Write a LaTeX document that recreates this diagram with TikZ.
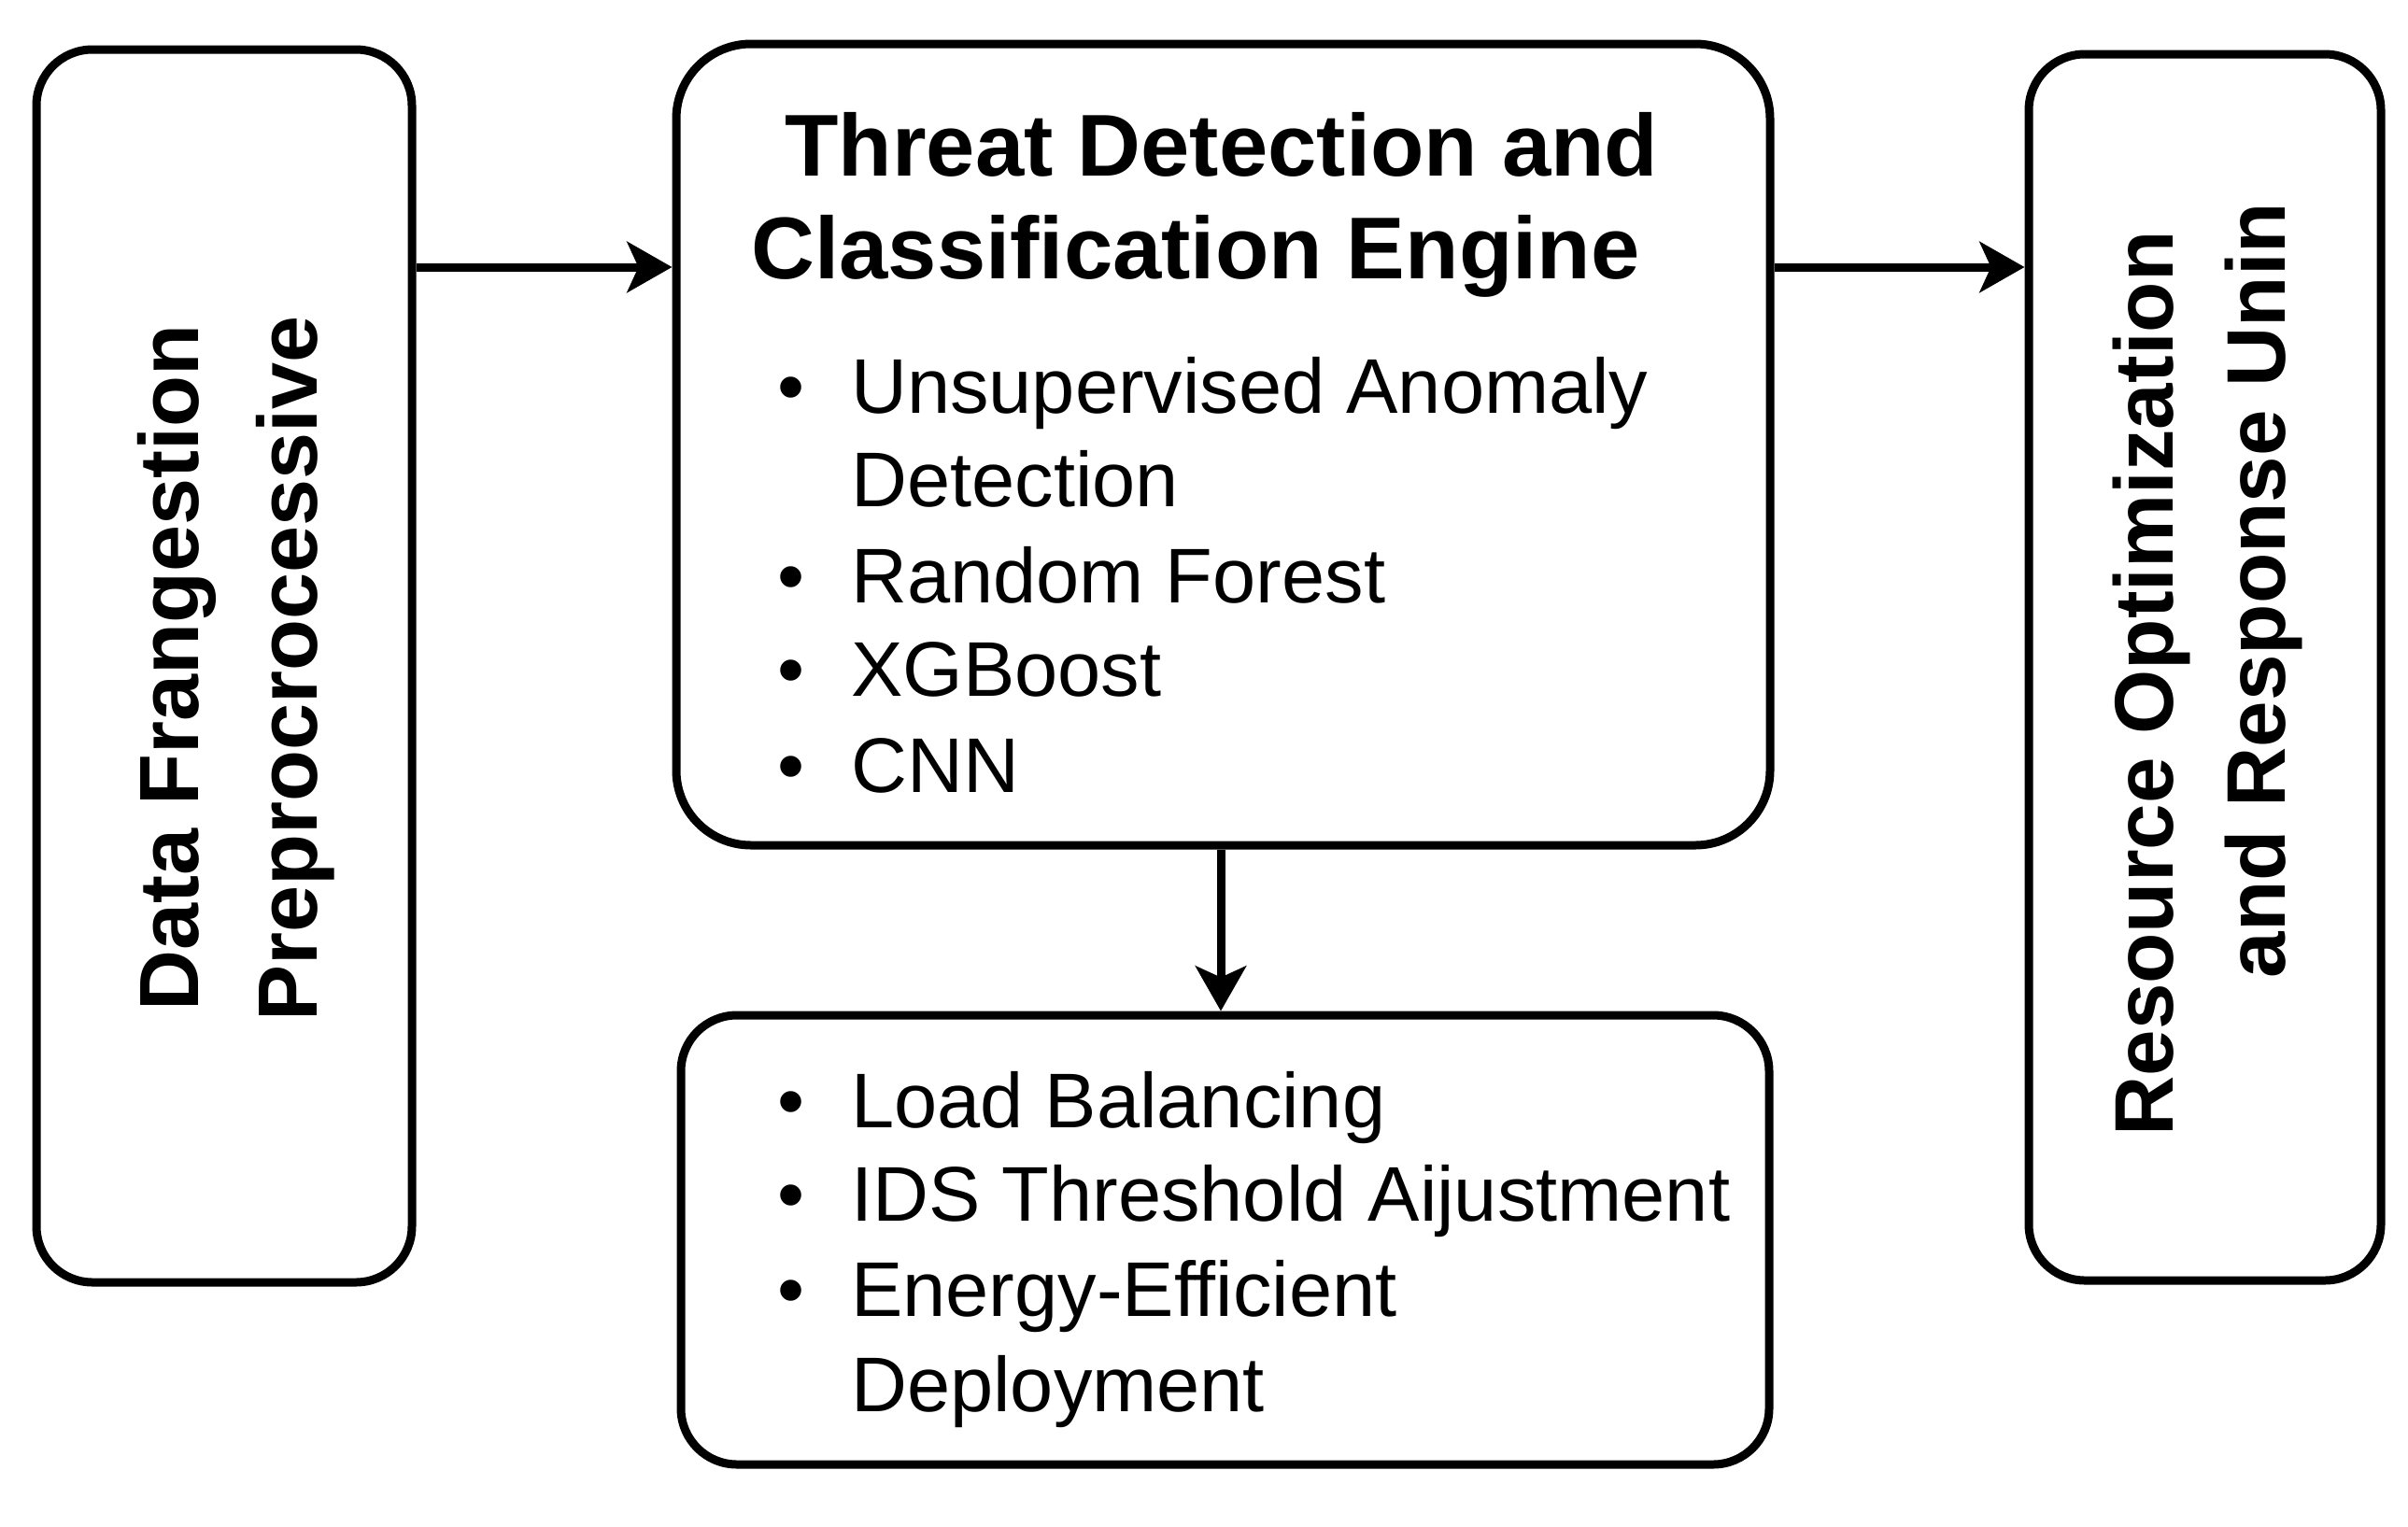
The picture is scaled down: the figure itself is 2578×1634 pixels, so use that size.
\documentclass[tikz,border=0pt]{standalone}
\usepackage{fontspec}
\setmainfont{Liberation Sans}
\usetikzlibrary{arrows.meta}
\tikzset{
  box/.style={draw=black, line width=9pt, rounded corners=60pt, rectangle, inner sep=0pt, fill=white},
  bigbox/.style={box, rounded corners=80pt},
  arr/.style={draw=black, line width=9pt, -{Stealth[length=48pt, width=54pt, inset=12pt]}},
  vlbl/.style={inner sep=0pt, rotate=90, anchor=base, font=\bfseries\fontsize{89}{107}\selectfont},
  ttl/.style={inner sep=0pt, anchor=base, font=\bfseries\fontsize{94}{107}\selectfont},
  itm/.style={inner sep=0pt, anchor=base west, font=\fontsize{83}{100}\selectfont},
  bul/.style={inner sep=0pt, anchor=base, font=\fontsize{83}{100}\selectfont}
}
\begin{document}
\begin{tikzpicture}[x=1pt,y=-1pt]
\useasboundingbox[fill=white] (0,0) rectangle (2578,1634);
% boxes
\node[box, minimum width=402pt, minimum height=1320pt] (dp) at (240,713) {};
\node[bigbox, minimum width=1171pt, minimum height=858pt] (td) at (1309.5,476) {};
\node[box, minimum width=1165pt, minimum height=481pt] (lb) at (1311.5,1327.5) {};
\node[box, minimum width=377pt, minimum height=1313pt] (ro) at (2360.5,714.5) {};
% helper coordinates
\coordinate (r1) at (0,286);
\coordinate (c1) at (1307,0);
% connectors
\draw[arr] (dp.east |- r1) -- (td.west |- r1);
\draw[arr] (td.east |- r1) -- (ro.west |- r1);
\draw[arr] (td.south -| c1) -- (lb.north -| c1);
% left text
\node[vlbl, font=\bfseries\fontsize{90}{107}\selectfont] (dpa) at (212,715) {Data Frangestion};
\node[vlbl, font=\bfseries\fontsize{90}{107}\selectfont] (dpb) at (339,716) {Preprocrocessive};
% right text
\node[vlbl] (roa) at (2326,732) {Resource Optimization};
\node[vlbl] (rob) at (2446,632) {and Response Unin};
% title
\node[ttl] (tda) at (1308,188) {Threat Detection and};
\node[ttl] (tdb) at (1280,298) {Classification Engine};
% engine bullets
\node[bul] (b1) at (847,442) {•};
\node[itm] (i1) at (911,442) {Unsupervised Anomaly};
\node[itm] (i1b) at (911,542) {Detection};
\node[bul] (b2) at (847,645) {•};
\node[itm] (i2) at (911,645) {Random Forest};
\node[bul] (b3) at (847,745) {•};
\node[itm] (i3) at (911,745) {XGBoost};
\node[bul] (b4) at (847,848) {•};
\node[itm] (i4) at (911,848) {CNN};
% lower bullets
\node[bul] (b5) at (847,1207) {•};
\node[itm] (i5) at (911,1207) {Load Balancing};
\node[bul] (b6) at (847,1307) {•};
\node[itm] (i6) at (911,1307) {IDS Threshold Aijustment};
\node[bul] (b7) at (847,1409) {•};
\node[itm] (i7) at (911,1409) {Energy-Efficient};
\node[itm] (i7b) at (911,1511) {Deployment};
\end{tikzpicture}
\end{document}
